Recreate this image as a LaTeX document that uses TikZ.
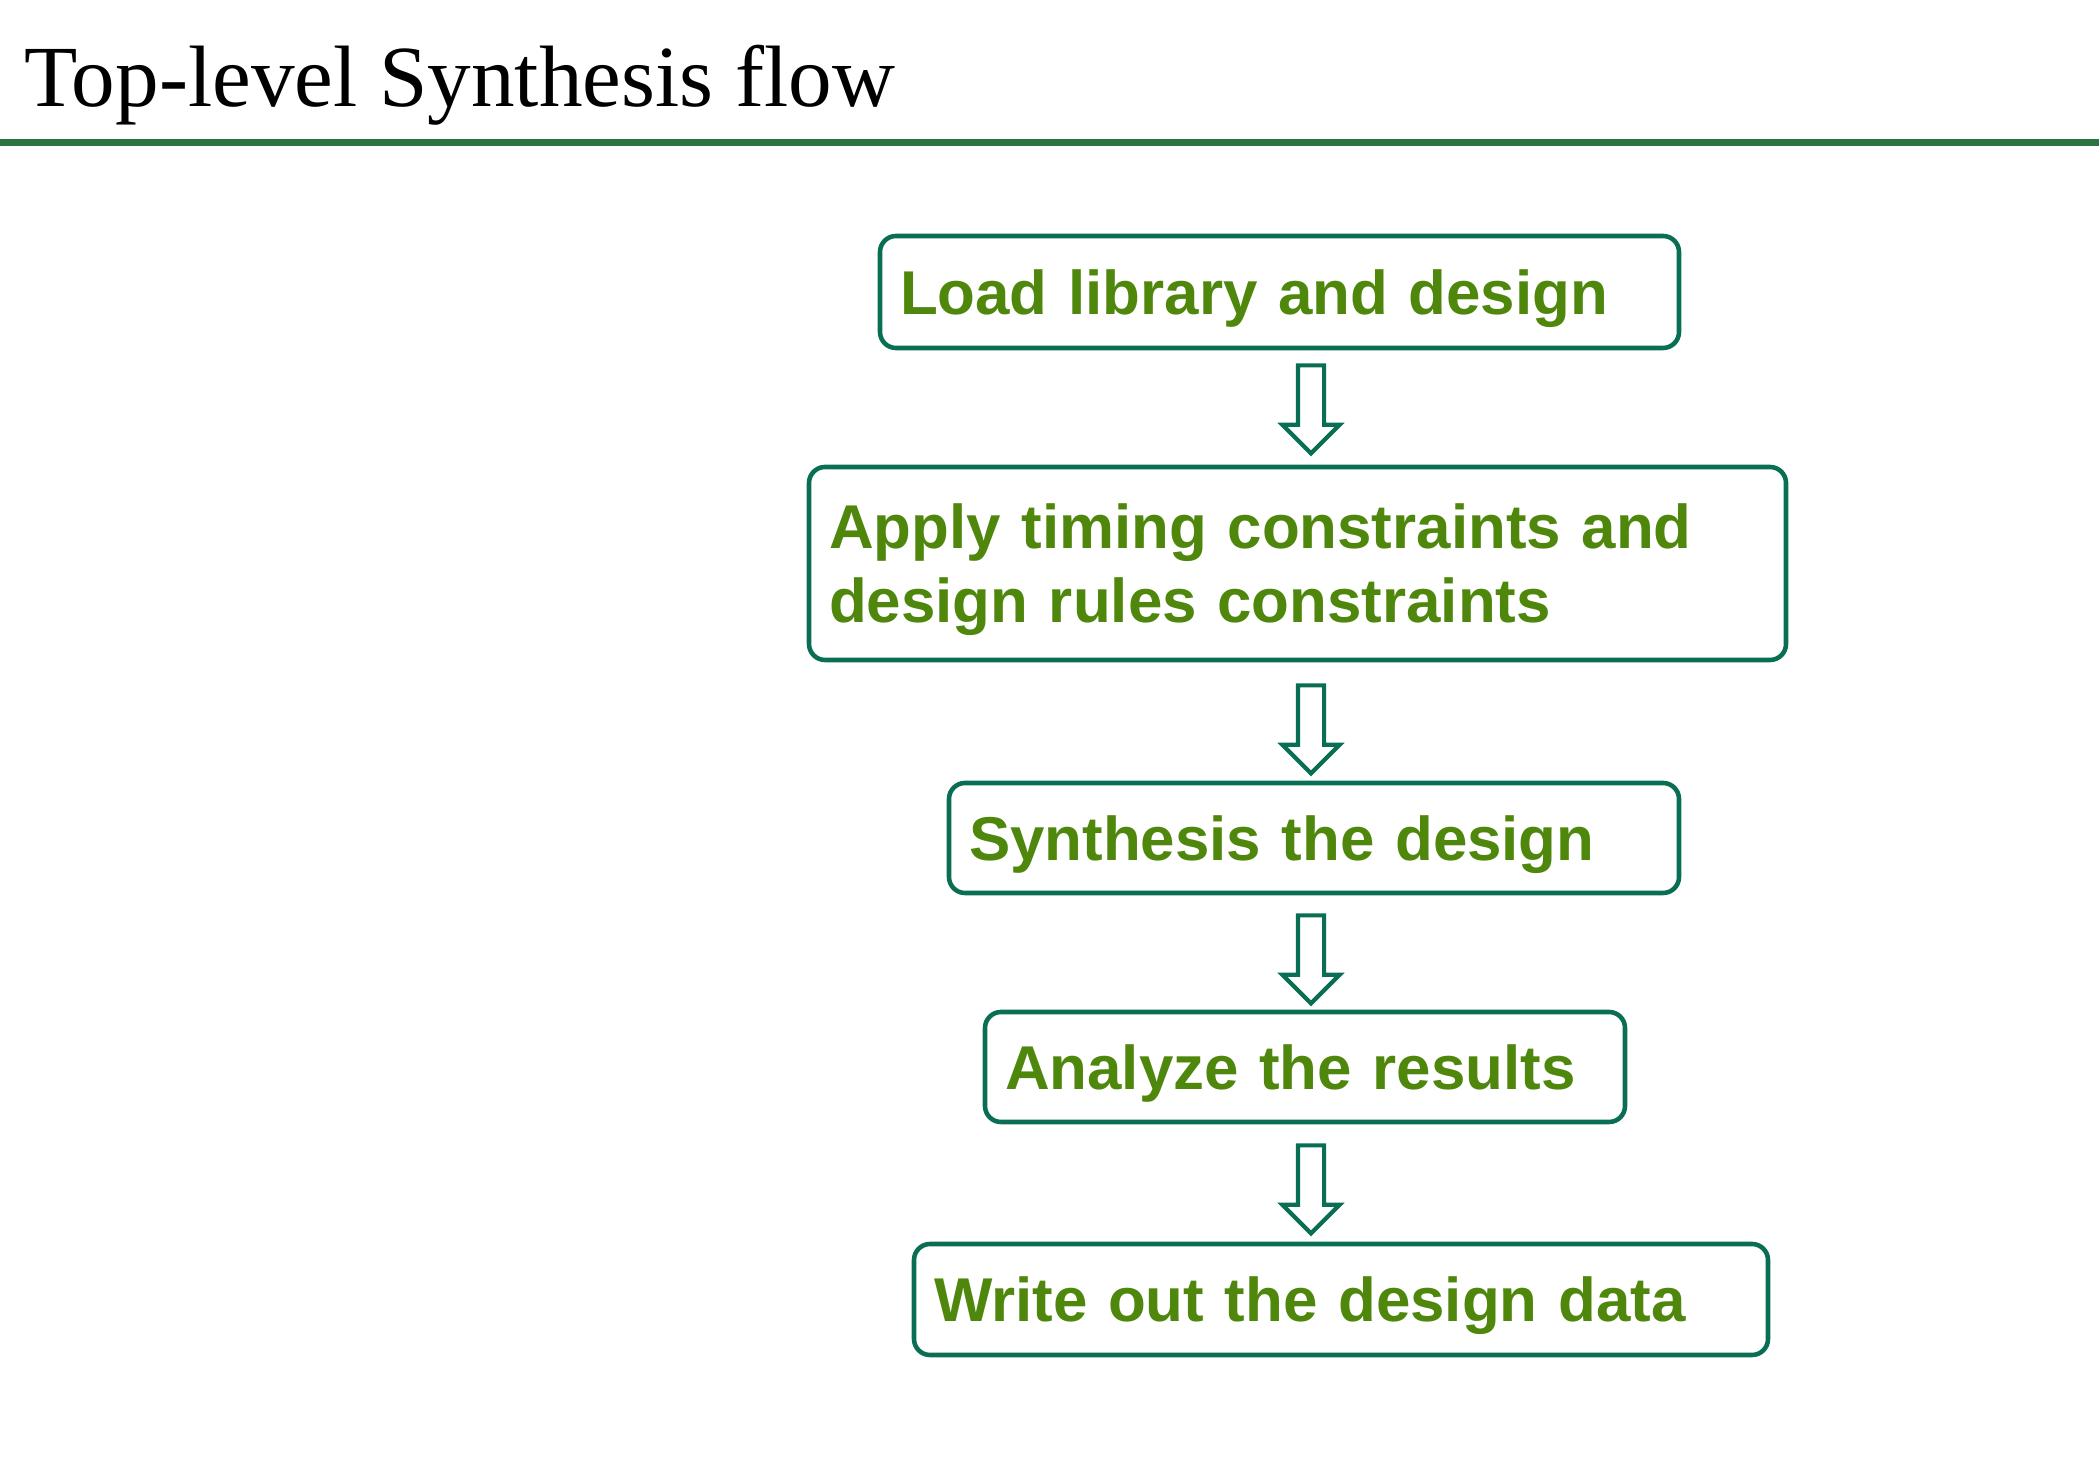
\documentclass[tikz,border=0pt]{standalone}
\usepackage{fontspec}
\setmainfont{Liberation Serif}
\setsansfont{Liberation Sans}
\usetikzlibrary{shapes.arrows,positioning,calc}

\definecolor{ruleGreen}{RGB}{45,115,65}
\definecolor{boxBorder}{RGB}{10,110,85}
\definecolor{stepText}{RGB}{78,135,12}

\begin{document}
\begin{tikzpicture}[font=\sffamily\bfseries,
    stepbox/.style={draw=boxBorder, line width=1.3pt, rounded corners=0.16cm,
      fill=white, inner xsep=0.2cm, inner ysep=0pt, align=left, text depth=0pt,
      text=stepText, font=\sffamily\bfseries\fontsize{17.6}{21}\selectfont},
    flowarrow/.style={single arrow, draw=boxBorder, line width=1.2pt, fill=white,
      rotate=-90, anchor=tail, inner xsep=0pt, inner ysep=0.11cm, minimum height=0.88cm,
      single arrow head extend=0.155cm, single arrow head indent=0pt}]
    \useasboundingbox (0,0) rectangle (20.99,14.58);

    \coordinate (titleNode) at (0.24,13.51);
    \coordinate (loadNode) at (12.795,11.66);
    \coordinate (applyNode) at (12.975,8.945);
    \coordinate (synthNode) at (13.14,6.20);
    \coordinate (analyzeNode) at (13.05,3.91);
    \coordinate (writeNode) at (13.41,1.585);
    \coordinate (axisNode) at (13.11,0);

    \node [anchor=base west, inner sep=0pt, font=\rmfamily\fontsize{24.8}{28}\selectfont] (title) at (titleNode) {Top-level Synthesis flow};
    \draw[ruleGreen, line width=2pt] (0,13.15) -- (20.99,13.15);

    \node [stepbox, text width=7.59cm, minimum height=1.12cm] (load) at (loadNode) {Load library and design};
    \node [stepbox, text width=9.37cm, minimum height=1.93cm, text depth=0.74cm] (apply) at (applyNode) {Apply timing constraints and\\design rules constraints};
    \node [stepbox, text width=6.90cm, minimum height=1.10cm] (synth) at (synthNode) {Synthesis the design};
    \node [stepbox, text width=6.00cm, minimum height=1.10cm] (analyze) at (analyzeNode) {Analyze the results};
    \node [stepbox, text width=8.14cm, minimum height=1.11cm] (write) at (writeNode) {Write out the design data};

    \node[flowarrow] (arrA) at ($(load.south -| axisNode)+(0,-0.13)$) {};
    \node[flowarrow] (arrB) at ($(apply.south -| axisNode)+(0,-0.21)$) {};
    \node[flowarrow] (arrC) at ($(synth.south -| axisNode)+(0,-0.18)$) {};
    \node[flowarrow] (arrD) at ($(analyze.south -| axisNode)+(0,-0.19)$) {};

  \end{tikzpicture}
\end{document}
